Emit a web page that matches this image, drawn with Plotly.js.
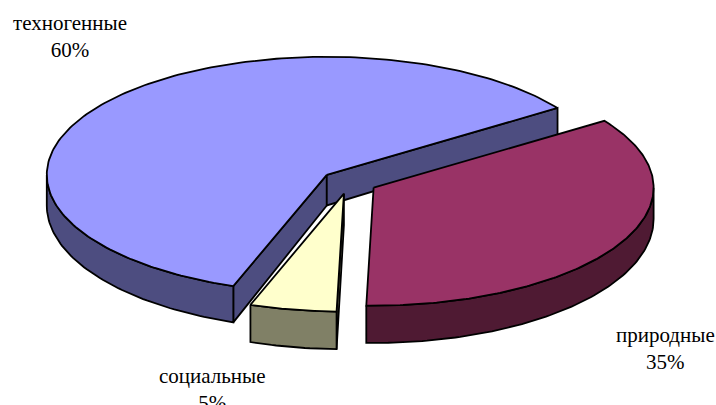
<!DOCTYPE html>
<html>
<head>
<meta charset="utf-8">
<script src="https://cdn.plot.ly/plotly-3.0.1.min.js"></script>
<style>html,body{margin:0;padding:0;background:#fff;}#chart{width:716px;height:405px;}</style>
</head>
<body>
<div id="chart"></div>
<script>
// ---- data ----
const labels = ['техногенные', 'природные', 'социальные'];
const values = [60, 35, 5];

// ---- styles ----
const topColors = ['#9999FF', '#993366', '#FFFFCC'];
const sideColors = ['#4D4D80', '#4F1A33', '#808066'];
const labelPos = [[70, 36], [665, 348], [212, 389]];

// ---- 3D pie geometry (screen units of the axes) ----
const CX = 349, CY = 182, RX = 280, RY = 118;
const EXPLODE = 0.1, START = 250.5;        // first slice starts here, goes clockwise
const DEPTH0 = 31, DEPTH_K = 6;

const rad = d => d * Math.PI / 180;
const total = values.reduce((s, v) => s + v, 0);

function point(theta, r, m) {
  const wx = r * Math.cos(rad(theta)) + EXPLODE * Math.cos(rad(m));
  const wy = r * Math.sin(rad(theta)) + EXPLODE * Math.sin(rad(m));
  return { x: CX + RX * wx, y: CY - RY * wy, d: DEPTH0 - DEPTH_K * wy };
}

const slices = [];
let a = START;
values.forEach((v, i) => {
  const span = v / total * 360;
  const a0 = a, a1 = a - span;
  a = a1;
  slices.push({ i, a0, a1, m: (a0 + a1) / 2 });
});

// draw farthest slices first
slices.sort((p, q) => Math.sin(rad(q.m)) - Math.sin(rad(p.m)));

const traces = [];
function poly(pts, fill) {
  const xs = pts.map(p => p[0]), ys = pts.map(p => p[1]);
  xs.push(xs[0]); ys.push(ys[0]);
  traces.push({
    type: 'scatter', mode: 'lines', x: xs, y: ys, fill: 'toself',
    fillcolor: fill, line: { color: '#000', width: 1.8 },
    hoverinfo: 'skip', showlegend: false
  });
}

slices.forEach(s => {
  const { i, a0, a1, m } = s;
  const side = sideColors[i];
  const apex = point(0, 0, m);

  // radial faces
  [[a0, Math.cos(rad(a0)) < 0], [a1, Math.cos(rad(a1)) > 0]].forEach(([ang, vis]) => {
    if (!vis) return;
    const e = point(ang, 1, m);
    poly([[apex.x, apex.y], [e.x, e.y], [e.x, e.y + e.d], [apex.x, apex.y + apex.d]], side);
  });

  // outer curved side, front part only
  const angs = [a1, a0];
  for (let t = Math.ceil(a1); t < a0; t += 1) angs.push(t);
  for (let k = Math.ceil(a1 / 180) * 180; k < a0; k += 180) angs.push(k);
  angs.sort((p, q) => p - q);
  const uniq = angs.filter((t, j) => j === 0 || Math.abs(t - angs[j - 1]) > 1e-9);
  let runs = [], cur = null;
  for (let j = 0; j < uniq.length - 1; j++) {
    const mid = (uniq[j] + uniq[j + 1]) / 2;
    if (Math.sin(rad(mid)) < 0) {
      if (!cur) { cur = [uniq[j]]; runs.push(cur); }
      cur.push(uniq[j + 1]);
    } else cur = null;
  }
  runs.forEach(run => {
    const topPts = run.map(t => point(t, 1, m));
    const pts = topPts.map(p => [p.x, p.y]);
    for (let j = topPts.length - 1; j >= 0; j--) pts.push([topPts[j].x, topPts[j].y + topPts[j].d]);
    poly(pts, side);
  });

  // top face
  const top = [[apex.x, apex.y]];
  for (let j = 0; j <= 200; j++) {
    const t = a1 + (a0 - a1) * j / 200;
    const p = point(t, 1, m);
    top.push([p.x, p.y]);
  }
  poly(top, topColors[i]);
});

const FONT = 'Times New Roman, Liberation Serif, DejaVu Serif, serif';
const annotations = labels.map((lab, i) => ({
  x: labelPos[i][0], y: labelPos[i][1], xref: 'x', yref: 'y',
  text: lab + '<br>' + Math.round(values[i] / total * 100) + '%',
  showarrow: false, xanchor: 'center', yanchor: 'middle',
  font: { family: FONT, size: 21, color: '#000' }
}));

const layout = {
  width: 716, height: 405,
  margin: { l: 0, r: 0, t: 0, b: 0 },
  paper_bgcolor: '#fff', plot_bgcolor: '#fff',
  font: { family: FONT },
  xaxis: { range: [0, 716], visible: false, fixedrange: true },
  yaxis: { range: [405, 0], visible: false, fixedrange: true },
  annotations, showlegend: false
};

Plotly.newPlot('chart', traces, layout, { displayModeBar: false, staticPlot: true });
</script>
</body>
</html>
